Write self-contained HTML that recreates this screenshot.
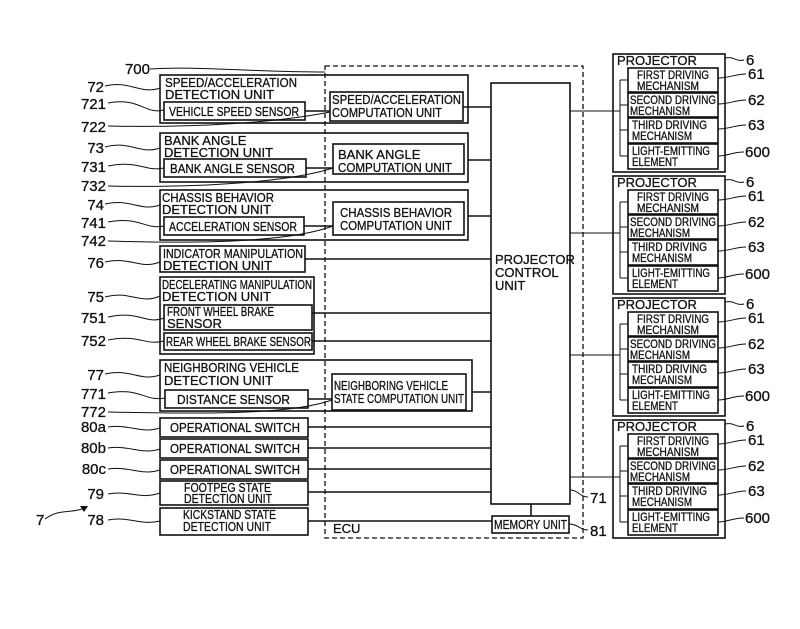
<!DOCTYPE html>
<html><head><meta charset="utf-8"><style>
html,body{margin:0;padding:0;background:#fff}
svg{display:block}
text{font-family:"Liberation Sans",sans-serif;fill:#111;stroke:#111;stroke-width:0.3}
.t{font-size:13px}
.s{font-size:12px}
.n{font-size:15px}
</style></head><body>
<svg width="800" height="629" viewBox="0 0 800 629" xmlns="http://www.w3.org/2000/svg">
<g fill="none" stroke="#111" stroke-width="1.6">
<rect x="325" y="66" width="258" height="472" stroke-dasharray="5,3" stroke-width="1.3"/>
<rect x="491" y="83" width="79" height="421"/>
<rect x="492" y="516" width="77" height="17"/>
<line x1="531" y1="504" x2="531" y2="516"/>
<rect x="160" y="75" width="308" height="48"/>
<rect x="164" y="102" width="141" height="18"/>
<rect x="330" y="92" width="133" height="29"/>
<line x1="305" y1="111" x2="330" y2="111"/>
<line x1="463" y1="107" x2="491" y2="107"/>
<rect x="160" y="133" width="308" height="49"/>
<rect x="164" y="159" width="142" height="18"/>
<rect x="333" y="144" width="131" height="30"/>
<line x1="306" y1="168" x2="333" y2="168"/>
<line x1="468" y1="160" x2="491" y2="160"/>
<rect x="160" y="190" width="308" height="50"/>
<rect x="164" y="217" width="140" height="18"/>
<rect x="333" y="202" width="131" height="33"/>
<line x1="304" y1="226" x2="333" y2="226"/>
<line x1="468" y1="216" x2="491" y2="216"/>
<rect x="160" y="246" width="145" height="26"/>
<line x1="305" y1="259" x2="491" y2="259"/>
<rect x="160" y="277" width="154" height="77"/>
<rect x="164" y="305" width="148" height="25"/>
<rect x="164" y="333" width="148" height="17"/>
<line x1="312" y1="313" x2="491" y2="313"/>
<line x1="312" y1="341" x2="491" y2="341"/>
<rect x="160" y="360" width="312" height="51"/>
<rect x="165" y="390" width="143" height="18"/>
<rect x="332" y="374" width="134" height="36"/>
<line x1="308" y1="399" x2="332" y2="399"/>
<line x1="472" y1="392" x2="491" y2="392"/>
<rect x="160" y="418" width="148" height="19"/>
<rect x="160" y="439" width="148" height="19"/>
<rect x="160" y="460" width="148" height="19"/>
<rect x="160" y="481" width="148" height="24"/>
<rect x="160" y="508" width="148" height="27"/>
<line x1="308" y1="427" x2="491" y2="427"/>
<line x1="308" y1="448" x2="491" y2="448"/>
<line x1="308" y1="469" x2="491" y2="469"/>
<line x1="308" y1="492" x2="491" y2="492"/>
<line x1="308" y1="521" x2="492" y2="521"/>
</g>
<g fill="none" stroke="#111" stroke-width="1">
<path d="M150 69 C200 66,250 72,325 72"/>
<path d="M105 86 C130 80,140 95,160 88"/>
<path d="M108 103 C140 97,145 115,164 110"/>
<path d="M108 126 C200 128,280 122,330 112"/>
<path d="M105 147 C130 140,140 155,160 148"/>
<path d="M108 166 C140 160,145 172,164 168"/>
<path d="M108 186 C200 188,290 182,333 168"/>
<path d="M105 204 C130 198,140 212,160 205"/>
<path d="M108 222 C140 216,145 230,164 226"/>
<path d="M108 241 C200 244,290 242,333 226"/>
<path d="M105 262 C130 256,140 270,160 262"/>
<path d="M105 297 C130 290,140 305,160 296"/>
<path d="M108 317 C140 310,145 325,164 318"/>
<path d="M108 340 C140 334,145 346,164 341"/>
<path d="M105 374 C130 368,140 382,160 375"/>
<path d="M108 393 C140 387,145 402,165 398"/>
<path d="M108 412 C200 414,290 415,332 400"/>
<path d="M108 427 C130 424,140 434,160 428"/>
<path d="M108 448 C130 445,140 455,160 449"/>
<path d="M108 469 C130 466,140 476,160 470"/>
<path d="M108 494 C130 490,140 500,160 493"/>
<path d="M108 520 C130 516,140 526,160 521"/>
<path d="M45 519 C60 508,70 514,85 508"/>
<path d="M570 490 C578 490,580 497,588 497"/>
<path d="M569 524 C578 524,580 530,588 530"/>
</g>
<polygon points="88,506 80,506 84,512" fill="#111"/>
<g class="n">
<text x="150" y="74" text-anchor="end">700</text>
<text x="104" y="92" text-anchor="end">72</text>
<text x="106" y="109" text-anchor="end">721</text>
<text x="106" y="132" text-anchor="end">722</text>
<text x="104" y="153" text-anchor="end">73</text>
<text x="106" y="172" text-anchor="end">731</text>
<text x="106" y="191" text-anchor="end">732</text>
<text x="104" y="210" text-anchor="end">74</text>
<text x="106" y="228" text-anchor="end">741</text>
<text x="106" y="246" text-anchor="end">742</text>
<text x="104" y="268" text-anchor="end">76</text>
<text x="104" y="302" text-anchor="end">75</text>
<text x="106" y="323" text-anchor="end">751</text>
<text x="106" y="346" text-anchor="end">752</text>
<text x="104" y="380" text-anchor="end">77</text>
<text x="106" y="399" text-anchor="end">771</text>
<text x="106" y="417" text-anchor="end">772</text>
<text x="106" y="432" text-anchor="end">80a</text>
<text x="106" y="453" text-anchor="end">80b</text>
<text x="106" y="474" text-anchor="end">80c</text>
<text x="104" y="499" text-anchor="end">79</text>
<text x="104" y="525" text-anchor="end">78</text>
<text x="36" y="525">7</text>
<text x="590" y="503">71</text>
<text x="590" y="536">81</text>
</g>
<g class="t">
<text x="165" y="87" textLength="132" lengthAdjust="spacingAndGlyphs">SPEED/ACCELERATION</text>
<text x="165" y="99">DETECTION UNIT</text>
<text x="169" y="116" textLength="130" lengthAdjust="spacingAndGlyphs">VEHICLE SPEED SENSOR</text>
<text x="332" y="104" textLength="129" lengthAdjust="spacingAndGlyphs">SPEED/ACCELERATION</text>
<text x="332" y="117" textLength="110" lengthAdjust="spacingAndGlyphs">COMPUTATION UNIT</text>
<text x="164" y="145">BANK ANGLE</text>
<text x="164" y="157">DETECTION UNIT</text>
<text x="170" y="173" textLength="125" lengthAdjust="spacingAndGlyphs">BANK ANGLE SENSOR</text>
<text x="338" y="159">BANK ANGLE</text>
<text x="338" y="172" textLength="114" lengthAdjust="spacingAndGlyphs">COMPUTATION UNIT</text>
<text x="162" y="202" textLength="112" lengthAdjust="spacingAndGlyphs">CHASSIS BEHAVIOR</text>
<text x="162" y="214">DETECTION UNIT</text>
<text x="169" y="231" textLength="128" lengthAdjust="spacingAndGlyphs">ACCELERATION SENSOR</text>
<text x="340" y="217" textLength="112" lengthAdjust="spacingAndGlyphs">CHASSIS BEHAVIOR</text>
<text x="340" y="230" textLength="112" lengthAdjust="spacingAndGlyphs">COMPUTATION UNIT</text>
<text x="163" y="258" textLength="140" lengthAdjust="spacingAndGlyphs">INDICATOR MANIPULATION</text>
<text x="163" y="270">DETECTION UNIT</text>
<text x="162" y="289" textLength="150" lengthAdjust="spacingAndGlyphs">DECELERATING MANIPULATION</text>
<text x="162" y="301">DETECTION UNIT</text>
<text x="167" y="316" textLength="107" lengthAdjust="spacingAndGlyphs">FRONT WHEEL BRAKE</text>
<text x="167" y="328">SENSOR</text>
<text x="166" y="346" textLength="145" lengthAdjust="spacingAndGlyphs">REAR WHEEL BRAKE SENSOR</text>
<text x="164" y="372" textLength="135" lengthAdjust="spacingAndGlyphs">NEIGHBORING VEHICLE</text>
<text x="164" y="385">DETECTION UNIT</text>
<text x="177" y="404" textLength="113" lengthAdjust="spacingAndGlyphs">DISTANCE SENSOR</text>
<text x="334" y="390" textLength="114" lengthAdjust="spacingAndGlyphs">NEIGHBORING VEHICLE</text>
<text x="334" y="403" textLength="130" lengthAdjust="spacingAndGlyphs">STATE COMPUTATION UNIT</text>
<text x="170" y="432" textLength="130" lengthAdjust="spacingAndGlyphs">OPERATIONAL SWITCH</text>
<text x="170" y="453" textLength="130" lengthAdjust="spacingAndGlyphs">OPERATIONAL SWITCH</text>
<text x="170" y="474" textLength="130" lengthAdjust="spacingAndGlyphs">OPERATIONAL SWITCH</text>
<text x="184" y="492" textLength="87" lengthAdjust="spacingAndGlyphs">FOOTPEG STATE</text>
<text x="184" y="503" textLength="88" lengthAdjust="spacingAndGlyphs">DETECTION UNIT</text>
<text x="183" y="519" textLength="93" lengthAdjust="spacingAndGlyphs">KICKSTAND STATE</text>
<text x="183" y="531" textLength="88" lengthAdjust="spacingAndGlyphs">DETECTION UNIT</text>
<text x="333" y="533">ECU</text>
<text x="495" y="264">PROJECTOR</text>
<text x="495" y="277">CONTROL</text>
<text x="495" y="290">UNIT</text>
<text x="494" y="529" textLength="73" lengthAdjust="spacingAndGlyphs">MEMORY UNIT</text>
</g>
<g transform="translate(0,54)">
<g fill="none" stroke="#111" stroke-width="1.6">
<rect x="613" y="0" width="112" height="118"/>
<rect x="628" y="14" width="90" height="24"/>
<rect x="628" y="39" width="90" height="24"/>
<rect x="628" y="64" width="90" height="25"/>
<rect x="628" y="90" width="90" height="25"/>
</g>
<g fill="none" stroke="#111" stroke-width="1">
<path d="M620 26 V102 M620 26 H628 M620 51 H628 M620 76 H628 M620 102 H628"/>
<path d="M570 57 H620"/>
<path d="M725 4 C735 2,735 8,744 6"/>
<path d="M718 24 C730 24,735 20,746 20"/>
<path d="M718 50 C730 50,735 46,746 46"/>
<path d="M718 75 C730 75,735 71,746 71"/>
<path d="M718 102 C728 102,732 98,744 98"/>
</g>
<g class="s">
<text x="617" y="11" font-size="13">PROJECTOR</text>
<text x="637" y="25" textLength="72" lengthAdjust="spacingAndGlyphs">FIRST DRIVING</text>
<text x="637" y="36" textLength="62" lengthAdjust="spacingAndGlyphs">MECHANISM</text>
<text x="630" y="50" textLength="86" lengthAdjust="spacingAndGlyphs">SECOND DRIVING</text>
<text x="630" y="61" textLength="60" lengthAdjust="spacingAndGlyphs">MECHANISM</text>
<text x="632" y="75" textLength="75" lengthAdjust="spacingAndGlyphs">THIRD DRIVING</text>
<text x="632" y="86" textLength="60" lengthAdjust="spacingAndGlyphs">MECHANISM</text>
<text x="632" y="101" textLength="78" lengthAdjust="spacingAndGlyphs">LIGHT-EMITTING</text>
<text x="632" y="112" textLength="46" lengthAdjust="spacingAndGlyphs">ELEMENT</text>
</g>
<g class="n">
<text x="746" y="11">6</text>
<text x="748" y="25">61</text>
<text x="748" y="51">62</text>
<text x="748" y="76">63</text>
<text x="745" y="103">600</text>
</g>
</g>
<g transform="translate(0,176)">
<g fill="none" stroke="#111" stroke-width="1.6">
<rect x="613" y="0" width="112" height="118"/>
<rect x="628" y="14" width="90" height="24"/>
<rect x="628" y="39" width="90" height="24"/>
<rect x="628" y="64" width="90" height="25"/>
<rect x="628" y="90" width="90" height="25"/>
</g>
<g fill="none" stroke="#111" stroke-width="1">
<path d="M620 26 V102 M620 26 H628 M620 51 H628 M620 76 H628 M620 102 H628"/>
<path d="M570 57 H620"/>
<path d="M725 4 C735 2,735 8,744 6"/>
<path d="M718 24 C730 24,735 20,746 20"/>
<path d="M718 50 C730 50,735 46,746 46"/>
<path d="M718 75 C730 75,735 71,746 71"/>
<path d="M718 102 C728 102,732 98,744 98"/>
</g>
<g class="s">
<text x="617" y="11" font-size="13">PROJECTOR</text>
<text x="637" y="25" textLength="72" lengthAdjust="spacingAndGlyphs">FIRST DRIVING</text>
<text x="637" y="36" textLength="62" lengthAdjust="spacingAndGlyphs">MECHANISM</text>
<text x="630" y="50" textLength="86" lengthAdjust="spacingAndGlyphs">SECOND DRIVING</text>
<text x="630" y="61" textLength="60" lengthAdjust="spacingAndGlyphs">MECHANISM</text>
<text x="632" y="75" textLength="75" lengthAdjust="spacingAndGlyphs">THIRD DRIVING</text>
<text x="632" y="86" textLength="60" lengthAdjust="spacingAndGlyphs">MECHANISM</text>
<text x="632" y="101" textLength="78" lengthAdjust="spacingAndGlyphs">LIGHT-EMITTING</text>
<text x="632" y="112" textLength="46" lengthAdjust="spacingAndGlyphs">ELEMENT</text>
</g>
<g class="n">
<text x="746" y="11">6</text>
<text x="748" y="25">61</text>
<text x="748" y="51">62</text>
<text x="748" y="76">63</text>
<text x="745" y="103">600</text>
</g>
</g>
<g transform="translate(0,298)">
<g fill="none" stroke="#111" stroke-width="1.6">
<rect x="613" y="0" width="112" height="118"/>
<rect x="628" y="14" width="90" height="24"/>
<rect x="628" y="39" width="90" height="24"/>
<rect x="628" y="64" width="90" height="25"/>
<rect x="628" y="90" width="90" height="25"/>
</g>
<g fill="none" stroke="#111" stroke-width="1">
<path d="M620 26 V102 M620 26 H628 M620 51 H628 M620 76 H628 M620 102 H628"/>
<path d="M570 57 H620"/>
<path d="M725 4 C735 2,735 8,744 6"/>
<path d="M718 24 C730 24,735 20,746 20"/>
<path d="M718 50 C730 50,735 46,746 46"/>
<path d="M718 75 C730 75,735 71,746 71"/>
<path d="M718 102 C728 102,732 98,744 98"/>
</g>
<g class="s">
<text x="617" y="11" font-size="13">PROJECTOR</text>
<text x="637" y="25" textLength="72" lengthAdjust="spacingAndGlyphs">FIRST DRIVING</text>
<text x="637" y="36" textLength="62" lengthAdjust="spacingAndGlyphs">MECHANISM</text>
<text x="630" y="50" textLength="86" lengthAdjust="spacingAndGlyphs">SECOND DRIVING</text>
<text x="630" y="61" textLength="60" lengthAdjust="spacingAndGlyphs">MECHANISM</text>
<text x="632" y="75" textLength="75" lengthAdjust="spacingAndGlyphs">THIRD DRIVING</text>
<text x="632" y="86" textLength="60" lengthAdjust="spacingAndGlyphs">MECHANISM</text>
<text x="632" y="101" textLength="78" lengthAdjust="spacingAndGlyphs">LIGHT-EMITTING</text>
<text x="632" y="112" textLength="46" lengthAdjust="spacingAndGlyphs">ELEMENT</text>
</g>
<g class="n">
<text x="746" y="11">6</text>
<text x="748" y="25">61</text>
<text x="748" y="51">62</text>
<text x="748" y="76">63</text>
<text x="745" y="103">600</text>
</g>
</g>
<g transform="translate(0,420)">
<g fill="none" stroke="#111" stroke-width="1.6">
<rect x="613" y="0" width="112" height="118"/>
<rect x="628" y="14" width="90" height="24"/>
<rect x="628" y="39" width="90" height="24"/>
<rect x="628" y="64" width="90" height="25"/>
<rect x="628" y="90" width="90" height="25"/>
</g>
<g fill="none" stroke="#111" stroke-width="1">
<path d="M620 26 V102 M620 26 H628 M620 51 H628 M620 76 H628 M620 102 H628"/>
<path d="M570 57 H620"/>
<path d="M725 4 C735 2,735 8,744 6"/>
<path d="M718 24 C730 24,735 20,746 20"/>
<path d="M718 50 C730 50,735 46,746 46"/>
<path d="M718 75 C730 75,735 71,746 71"/>
<path d="M718 102 C728 102,732 98,744 98"/>
</g>
<g class="s">
<text x="617" y="11" font-size="13">PROJECTOR</text>
<text x="637" y="25" textLength="72" lengthAdjust="spacingAndGlyphs">FIRST DRIVING</text>
<text x="637" y="36" textLength="62" lengthAdjust="spacingAndGlyphs">MECHANISM</text>
<text x="630" y="50" textLength="86" lengthAdjust="spacingAndGlyphs">SECOND DRIVING</text>
<text x="630" y="61" textLength="60" lengthAdjust="spacingAndGlyphs">MECHANISM</text>
<text x="632" y="75" textLength="75" lengthAdjust="spacingAndGlyphs">THIRD DRIVING</text>
<text x="632" y="86" textLength="60" lengthAdjust="spacingAndGlyphs">MECHANISM</text>
<text x="632" y="101" textLength="78" lengthAdjust="spacingAndGlyphs">LIGHT-EMITTING</text>
<text x="632" y="112" textLength="46" lengthAdjust="spacingAndGlyphs">ELEMENT</text>
</g>
<g class="n">
<text x="746" y="11">6</text>
<text x="748" y="25">61</text>
<text x="748" y="51">62</text>
<text x="748" y="76">63</text>
<text x="745" y="103">600</text>
</g>
</g>
</svg>
</body></html>
